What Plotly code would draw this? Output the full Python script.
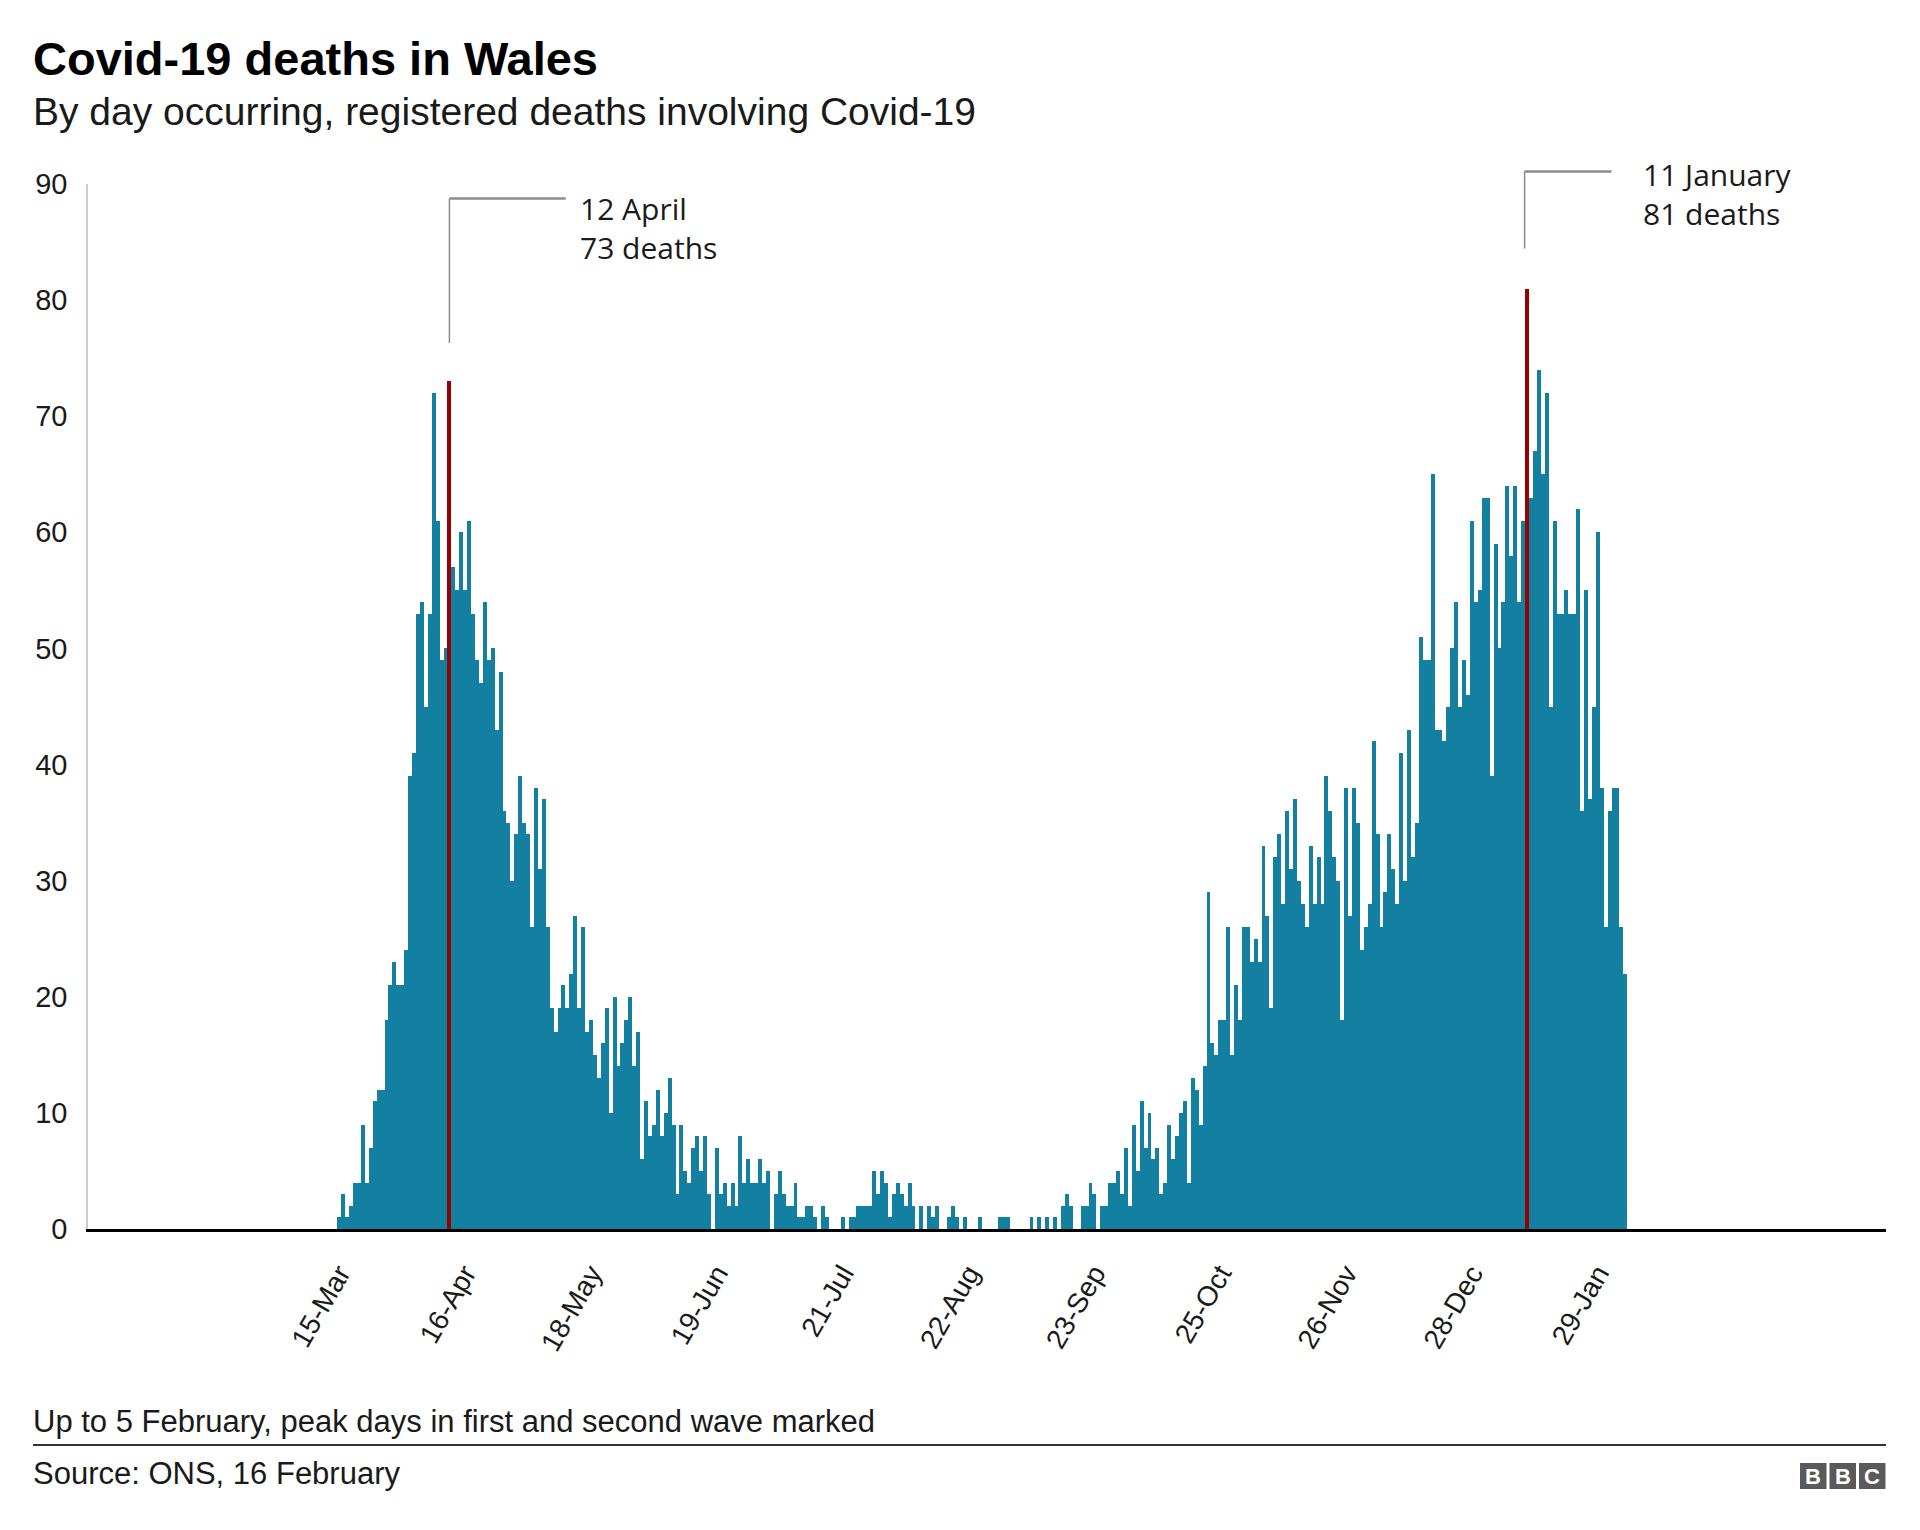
import plotly.graph_objects as go
import pandas as pd

# ---------------- data ----------------
start_date = "2020-03-15"   # first bar
deaths = [
    # 15 Mar - 12 Apr
    1, 3, 1, 2, 4, 4, 9, 4, 7, 11, 12, 12, 18, 21, 23, 21, 21, 24, 39, 41, 53, 54, 45, 53, 72, 61, 49, 50, 73,
    # 13 Apr - 21 May
    57, 55, 60, 55, 61, 53, 49, 47, 54, 49, 50, 43, 48, 36, 35, 30, 34, 39, 35, 34, 26, 38, 31, 37, 26, 19,
    17, 19, 21, 19, 22, 27, 19, 26, 17, 18, 15, 13, 16,
    # 22 May - 6 Jul
    19, 10, 20, 14, 16, 18, 20, 14, 17, 6, 11, 8, 9, 12, 8, 10, 13, 9, 3, 9, 5, 4, 7, 8, 5, 8, 3, 0, 7, 3,
    4, 2, 4, 2, 8, 4, 6, 4, 4, 6, 4, 5, 0, 3, 5, 3,
    # 7 Jul - 1 Sep
    2, 2, 4, 1, 1, 2, 2, 1, 0, 2, 1, 0, 0, 0, 1, 0, 1, 1, 2, 2, 2, 2, 5, 3, 5, 4, 1, 3, 4, 3, 2, 4, 2, 0,
    2, 0, 2, 1, 2, 0, 0, 1, 2, 1, 0, 1, 0, 0, 0, 1, 0, 0, 0, 0, 1, 1, 1,
    # 2 Sep - 20 Oct
    0, 0, 0, 0, 0, 1, 0, 1, 0, 1, 0, 1, 0, 2, 3, 2, 0, 0, 2, 2, 4, 3, 0, 2, 2, 4, 4, 5, 3, 7, 2, 9, 5, 11,
    7, 10, 6, 7, 3, 4, 9, 6, 8, 10, 11, 4, 13, 12, 9,
    # 21 Oct - 3 Dec
    14, 29, 16, 15, 18, 18, 26, 15, 21, 18, 26, 26, 23, 25, 23, 33, 27, 19, 32, 34, 28, 36, 31, 37, 30, 28,
    26, 33, 28, 32, 28, 39, 36, 32, 30, 18, 38, 27, 38, 35, 24, 26, 28, 42,
    # 4 Dec - 10 Jan
    34, 26, 29, 34, 31, 28, 41, 30, 43, 32, 35, 51, 49, 49, 65, 43, 43, 42, 45, 50, 54, 45, 49, 46, 61, 54,
    55, 63, 63, 39, 59, 50, 54, 64, 58, 64, 54, 61,
    # 11 Jan - 5 Feb
    81, 63, 67, 74, 65, 72, 45, 61, 53, 53, 55, 53, 53, 62, 36, 55, 37, 45, 60, 38, 26, 36, 38, 38, 26, 22,
]
peak_dates = ["2020-04-12", "2021-01-11"]
peak_labels = ["12 April<br>73 deaths", "11 January<br>81 deaths"]
tick_dates = ["2020-03-15", "2020-04-16", "2020-05-18", "2020-06-19", "2020-07-21", "2020-08-22",
              "2020-09-23", "2020-10-25", "2020-11-26", "2020-12-28", "2021-01-29"]
tick_labels = ["15-Mar", "16-Apr", "18-May", "19-Jun", "21-Jul", "22-Aug",
               "23-Sep", "25-Oct", "26-Nov", "28-Dec", "29-Jan"]
y_ticks = list(range(0, 91, 10))

# ---------------- styling ----------------
TEAL = "#1380A1"
RED = "#990000"
TXT = "#1a1a1a"
FONT = "Liberation Sans, Arial, Helvetica, sans-serif"
ANN_FONT = "Open Sans, Noto Sans, sans-serif"

W, H = 1920, 1530
PL, PR, PT, PB = 88, 1886, 184, 1229   # plot area in pixels


def px(x):
    return (x - PL) / (PR - PL)


def py(y):
    return (PB - y) / (PB - PT)


dates = pd.date_range(start_date, periods=len(deaths), freq="D")
peak_set = set(pd.to_datetime(peak_dates))
colors = [RED if d in peak_set else TEAL for d in dates]

fig = go.Figure()
fig.add_trace(go.Bar(
    x=dates, y=deaths, width=86400000,
    marker=dict(color=colors, line=dict(width=0)),
    hoverinfo="x+y",
))

fig.update_layout(
    width=W, height=H,
    margin=dict(l=PL, r=W - PR, t=PT, b=H - PB, pad=0),
    paper_bgcolor="white", plot_bgcolor="white",
    bargap=0, showlegend=False,
    font=dict(family=FONT, color=TXT),
    xaxis=dict(
        type="date",
        range=["2020-01-11 02:38", "2021-04-12 06:29"],
        tickvals=tick_dates, ticktext=tick_labels,
        tickangle=-60, tickfont=dict(size=28, color=TXT, family=FONT),
        showgrid=False, zeroline=False,
        showline=True, linecolor="#000000", linewidth=3,
        ticks="", ticklabelstandoff=14,
    ),
    yaxis=dict(
        range=[0, 90], tickvals=y_ticks,
        tickfont=dict(size=29, color=TXT, family=FONT),
        showgrid=False, zeroline=False,
        showline=True, linecolor="#cccccc", linewidth=1.5,
        ticks="", ticklabelstandoff=13,
    ),
)

annotations = []
shapes = []

# Title, subtitle
annotations.append(dict(xref="paper", yref="paper", x=px(31), y=py(59), xanchor="left", yanchor="middle",
                        text="<b>Covid-19 deaths in Wales</b>", showarrow=False,
                        font=dict(size=47, color="#000000", family=FONT)))
annotations.append(dict(xref="paper", yref="paper", x=px(31), y=py(112), xanchor="left", yanchor="middle",
                        text="By day occurring, registered deaths involving Covid-19", showarrow=False,
                        font=dict(size=39, color=TXT, family=FONT)))

# Peak call-outs
LINE_C = "#8c8c8c"
callouts = [
    # vx, vy_bottom, vy_top, hx_end, text_x, text_center_y
    (449.4, 343, 198.4, 565.7, 578, 228),
    (1524.6, 248.6, 171.4, 1611.5, 1640.5, 194),
]
for (vx, vyb, vyt, hx, tx, ty), lbl in zip(callouts, peak_labels):
    shapes.append(dict(type="line", xref="paper", yref="paper", x0=px(vx), x1=px(vx), y0=py(vyb), y1=py(vyt),
                       line=dict(color=LINE_C, width=1.5)))
    shapes.append(dict(type="line", xref="paper", yref="paper", x0=px(vx), x1=px(hx), y0=py(vyt), y1=py(vyt),
                       line=dict(color=LINE_C, width=2.5)))
    annotations.append(dict(xref="paper", yref="paper", x=px(tx), y=py(ty), xanchor="left", yanchor="middle",
                            align="left", text=lbl, showarrow=False,
                            font=dict(size=30, color=TXT, family=ANN_FONT)))

# Footer
annotations.append(dict(xref="paper", yref="paper", x=px(31), y=py(1421), xanchor="left", yanchor="middle",
                        text="Up to 5 February, peak days in first and second wave marked", showarrow=False,
                        font=dict(size=31, color=TXT, family=FONT)))
shapes.append(dict(type="line", xref="paper", yref="paper", x0=px(33), x1=px(1886), y0=py(1445), y1=py(1445),
                   line=dict(color="#333333", width=2)))
annotations.append(dict(xref="paper", yref="paper", x=px(31), y=py(1473), xanchor="left", yanchor="middle",
                        text="Source: ONS, 16 February", showarrow=False,
                        font=dict(size=31, color=TXT, family=FONT)))

# BBC logo blocks
for i, letter in enumerate(["B", "B", "C"]):
    x0 = 1800 + i * 29.5
    shapes.append(dict(type="rect", xref="paper", yref="paper", x0=px(x0), x1=px(x0 + 26.5),
                       y0=py(1489), y1=py(1463), fillcolor="#5a5a5a", line=dict(width=0)))
    annotations.append(dict(xref="paper", yref="paper", x=px(x0 + 13.25), y=py(1476.5), xanchor="center",
                            yanchor="middle", text="<b>%s</b>" % letter, showarrow=False,
                            font=dict(size=22, color="white", family=FONT)))

fig.update_layout(annotations=annotations, shapes=shapes)
fig.write_html("out.html")
